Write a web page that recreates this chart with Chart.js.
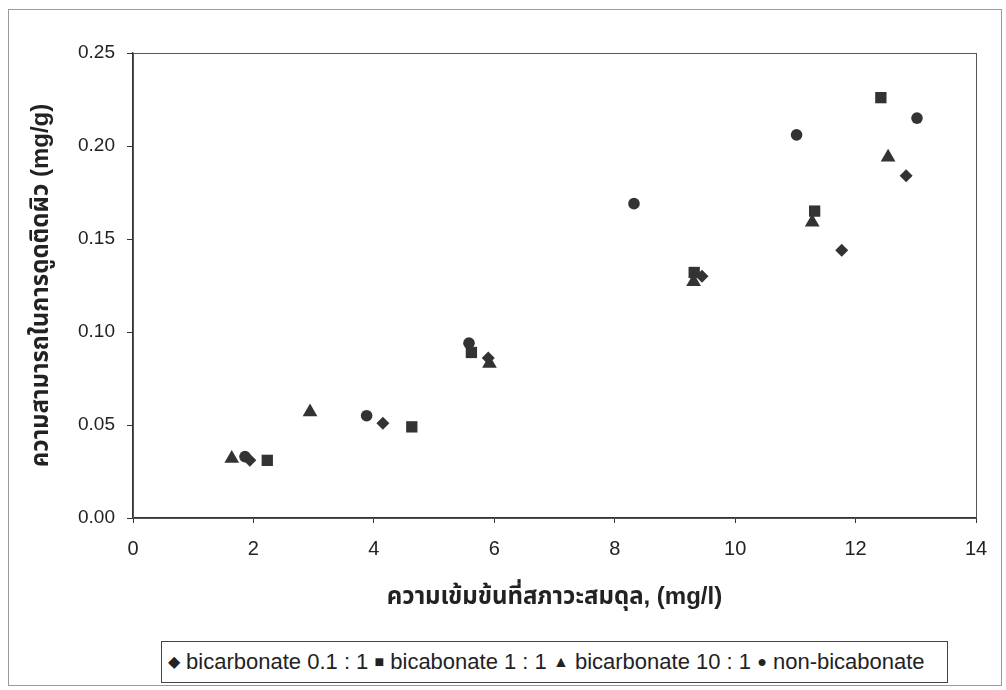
<!DOCTYPE html>
<html>
<head>
<meta charset="utf-8">
<script src="https://cdn.jsdelivr.net/npm/chart.js@4"></script>
<style>
  body { margin: 0; background: #fff; }
  .wrap { position: relative; width: 1006px; height: 690px; }
  .frame { position: absolute; left: 8px; top: 9px; width: 994px; height: 677px; border: 1px solid #9a9a9a; box-sizing: border-box; }
  canvas { position: absolute; left: 0; top: 0; }
  .legend {
    position: absolute; left: 161px; top: 641px; width: 787px; height: 42px;
    border: 1px solid #444; box-sizing: border-box; background: #fff;
    font: 22px "Liberation Sans", Arial, sans-serif; color: #222;
    line-height: 40px; padding-left: 6px; white-space: pre;
  }
  .legend .mk { font-size: 16px; position: relative; top: -2px; }
</style>
</head>
<body>
<div class="wrap">
  <div class="frame"></div>
  <canvas id="chart" width="1006" height="690"></canvas>
  <div class="legend" id="legend"></div>
</div>
<script>
"use strict";
const seriesNames = ["bicarbonate 0.1 : 1", "bicabonate 1 : 1", "bicarbonate 10 : 1", "non-bicabonate"];
const pointStyles = ["rectRot", "rect", "triangle", "circle"];
const legendGlyphs = ["◆", "■", "▲", "●"];
const pointSizes = [6.5, 8, 8.5, 5.8];

const xDiamond = [1.94, 4.15, 5.90, 9.45, 11.77, 12.84];
const yDiamond = [0.031, 0.051, 0.086, 0.130, 0.144, 0.184];
const xSquare = [2.23, 4.63, 5.62, 9.32, 11.32, 12.42];
const ySquare = [0.031, 0.049, 0.089, 0.132, 0.165, 0.226];
const xTriangle = [1.64, 2.94, 5.92, 9.31, 11.28, 12.54];
const yTriangle = [0.032, 0.057, 0.083, 0.127, 0.159, 0.194];
const xCircle = [1.86, 3.88, 5.58, 8.32, 11.02, 13.02];
const yCircle = [0.033, 0.055, 0.094, 0.169, 0.206, 0.215];

const xTitle = "ความเข้มข้นที่สภาวะสมดุล, (mg/l)";
const yTitle = "ความสามารถในการดูดติดผิว (mg/g)";

const allX = [xDiamond, xSquare, xTriangle, xCircle];
const allY = [yDiamond, ySquare, yTriangle, yCircle];

const datasets = seriesNames.map((name, i) => ({
  label: name,
  data: allX[i].map((x, j) => ({ x: x, y: allY[i][j] })),
  pointStyle: pointStyles[i],
  pointRadius: pointSizes[i],
  pointHoverRadius: pointSizes[i],
  backgroundColor: "#333",
  borderColor: "#333",
  borderWidth: 0,
  showLine: false,
}));

// legend box under the chart
document.querySelector("#legend").innerHTML = seriesNames
  .map((n, i) => `<span class="mk">${legendGlyphs[i]}</span> ${n}`)
  .join(" ");

const plotBorder = {
  id: "plotBorder",
  afterDraw(chart) {
    const { ctx, chartArea: a } = chart;
    ctx.save();
    ctx.strokeStyle = "#555";
    ctx.lineWidth = 1;
    ctx.strokeRect(a.left + 0.5, a.top + 0.5, a.right - a.left, a.bottom - a.top);
    ctx.restore();
  },
};

const yTickFont = { family: "'Liberation Sans', Arial, sans-serif", size: 19 };
const xTickFont = { family: "'Liberation Sans', Arial, sans-serif", size: 20 };
const titleFont = { family: "'Liberation Sans', 'Noto Sans Thai', 'DejaVu Sans', sans-serif", size: 24, weight: "bold" };

new Chart(document.querySelector("#chart"), {
  type: "scatter",
  data: { datasets: datasets },
  plugins: [plotBorder],
  options: {
    responsive: false,
    animation: false,
    layout: { padding: { left: 27, right: 30, top: 53, bottom: 78 } },
    plugins: { legend: { display: false }, tooltip: { enabled: false } },
    scales: {
      x: {
        type: "linear",
        min: 0,
        max: 14,
        afterFit: (s) => { s.height = 94; },
        ticks: { stepSize: 2, padding: 14, color: "#222", font: xTickFont, maxRotation: 0 },
        grid: { drawOnChartArea: false, drawTicks: true, tickLength: 5, color: "#333" },
        border: { color: "#333", width: 1.3 },
        title: { display: true, text: xTitle, color: "#222", font: titleFont, padding: 0 },
      },
      y: {
        type: "linear",
        min: 0,
        max: 0.25,
        afterFit: (s) => { s.width = 106; },
        ticks: { stepSize: 0.05, padding: 12, color: "#222", font: yTickFont, callback: (v) => v.toFixed(2) },
        grid: { drawOnChartArea: false, drawTicks: true, tickLength: 6, color: "#333" },
        border: { color: "#333", width: 1.3 },
        title: { display: true, text: yTitle, color: "#222", font: titleFont, padding: 0 },
      },
    },
  },
});
</script>
</body>
</html>
